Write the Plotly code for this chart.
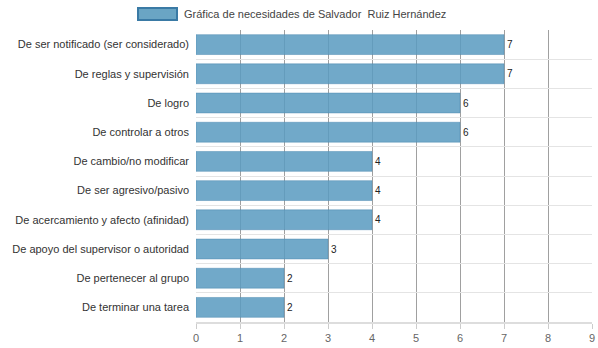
import plotly.graph_objects as go

categories = [
    "De ser notificado (ser considerado)",
    "De reglas y supervisión",
    "De logro",
    "De controlar a otros",
    "De cambio/no modificar",
    "De ser agresivo/pasivo",
    "De acercamiento y afecto (afinidad)",
    "De apoyo del supervisor o autoridad",
    "De pertenecer al grupo",
    "De terminar una tarea",
]
values = [7, 7, 6, 6, 4, 4, 4, 3, 2, 2]
series_name = "Gráfica de necesidades de Salvador  Ruiz Hernández"
x_ticks = list(range(0, 10))

W, H = 598, 348
ml, mr, mt, mb = 196, 6, 30, 26

fig = go.Figure()
fig.add_trace(go.Bar(
    y=categories, x=values, orientation="h",
    name=series_name,
    marker=dict(color="rgba(90,155,192,0.86)", line=dict(color="rgba(80,140,180,0.5)", width=1)),
    width=0.68,
    text=[str(v) for v in values], textposition="outside",
    textfont=dict(family="Arial", size=10, color="#222"),
    cliponaxis=False,
    showlegend=False,
))

fig.update_layout(
    width=W, height=H,
    margin=dict(l=ml, r=mr, t=mt, b=mb, pad=0, autoexpand=False),
    paper_bgcolor="white", plot_bgcolor="white",
    font=dict(family="Arial", size=11, color="#444"),
    xaxis=dict(
        range=[0, 9], tickvals=x_ticks, showgrid=True, gridcolor="#a0a0a0", gridwidth=1,
        zeroline=False, showline=True, linecolor="#ddd", linewidth=2,
        ticks="outside", ticklen=5, tickcolor="#ccc", automargin=False,
        tickfont=dict(family="Arial", size=11, color="#666"),
    ),
    yaxis=dict(
        autorange="reversed", type="category", tickson="boundaries",
        showgrid=True, gridcolor="#e4e4e4", gridwidth=1, automargin=False,
        showline=False, ticks="", ticklabelstandoff=6,
        tickfont=dict(family="Arial", size=11, color="#333"),
    ),
    shapes=[dict(
        type="rect", xref="paper", yref="paper",
        x0=(138 - ml) / (W - ml - mr), x1=(177 - ml) / (W - ml - mr),
        y0=1 + (mt - 20) / (H - mt - mb), y1=1 + (mt - 8) / (H - mt - mb),
        fillcolor="#6aa5c4", line=dict(color="#3a7aa5", width=2),
    )],
    annotations=[dict(
        text=series_name, xref="paper", yref="paper",
        x=(182 - ml) / (W - ml - mr), y=1 + (mt - 14) / (H - mt - mb),
        xanchor="left", yanchor="middle", showarrow=False,
        font=dict(family="Arial", size=11, color="#444"),
    )],
)

fig.write_html("out.html")
